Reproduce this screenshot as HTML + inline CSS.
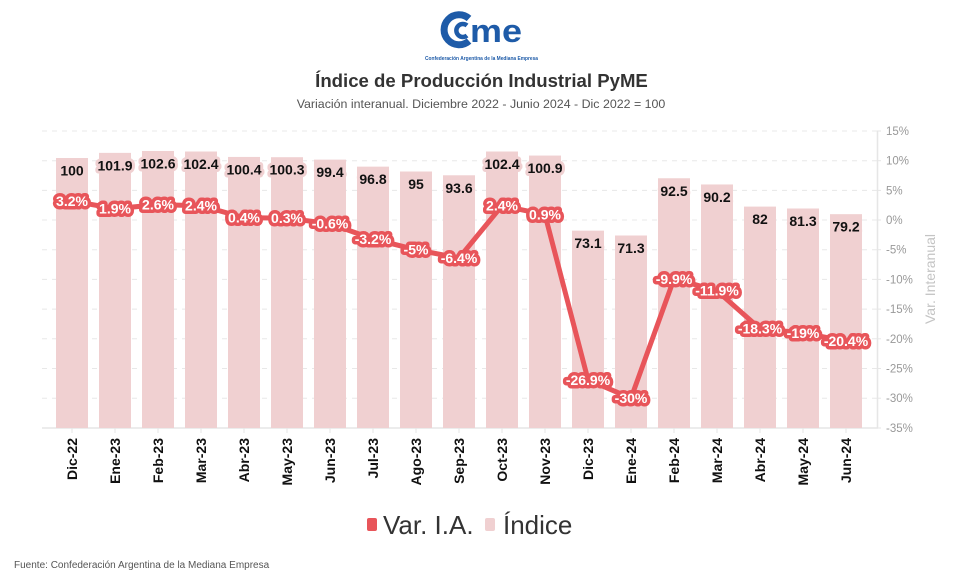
<!DOCTYPE html>
<html><head><meta charset="utf-8"><style>
html,body{margin:0;padding:0;background:#fff;}
svg{display:block;font-family:"Liberation Sans",sans-serif;}
</style></head><body>
<svg width="962" height="585" viewBox="0 0 962 585" xmlns="http://www.w3.org/2000/svg">
<!-- logo -->
<g fill="none" stroke="#1e5ba8">
<path d="M469 18.5 A15 15 0 1 0 469 41" stroke-width="7"/>
<path d="M467 25.5 A6.5 6.5 0 1 0 467 35.5" stroke-width="4.5"/>
</g>
<text x="470" y="42" font-size="32" font-weight="bold" fill="#1e5ba8" textLength="52" lengthAdjust="spacingAndGlyphs">me</text>
<text x="425" y="60" font-size="5" font-weight="bold" fill="#1e5ba8" textLength="113" lengthAdjust="spacingAndGlyphs">Confederación Argentina de la Mediana Empresa</text>
<!-- titles -->
<text x="481.5" y="87" font-size="18.6" font-weight="bold" fill="#333" text-anchor="middle">Índice de Producción Industrial PyME</text>
<text x="481" y="108" font-size="12.4" fill="#555" text-anchor="middle">Variación interanual. Diciembre 2022 - Junio 2024 - Dic 2022 = 100</text>
<!-- grid -->
<g stroke="#e8e8e8" stroke-width="1" stroke-dasharray="5,5">
<line x1="42" x2="877" y1="131" y2="131"/>
<line x1="42" x2="877" y1="160.7" y2="160.7"/>
<line x1="42" x2="877" y1="190.4" y2="190.4"/>
<line x1="42" x2="877" y1="220" y2="220"/>
<line x1="42" x2="877" y1="249.7" y2="249.7"/>
<line x1="42" x2="877" y1="279.4" y2="279.4"/>
<line x1="42" x2="877" y1="309.1" y2="309.1"/>
<line x1="42" x2="877" y1="338.8" y2="338.8"/>
<line x1="42" x2="877" y1="368.5" y2="368.5"/>
<line x1="42" x2="877" y1="398.2" y2="398.2"/>
</g>
<line x1="42" x2="878" y1="428" y2="428" stroke="#e6e6e6" stroke-width="1.5"/>
<line x1="877.5" x2="877.5" y1="131" y2="428" stroke="#e6e6e6" stroke-width="1.5"/>
<g stroke="#e6e6e6" stroke-width="1">
<line x1="877" x2="881" y1="131" y2="131"/><line x1="877" x2="881" y1="160.7" y2="160.7"/><line x1="877" x2="881" y1="190.4" y2="190.4"/><line x1="877" x2="881" y1="220" y2="220"/><line x1="877" x2="881" y1="249.7" y2="249.7"/><line x1="877" x2="881" y1="279.4" y2="279.4"/><line x1="877" x2="881" y1="309.1" y2="309.1"/><line x1="877" x2="881" y1="338.8" y2="338.8"/><line x1="877" x2="881" y1="368.5" y2="368.5"/><line x1="877" x2="881" y1="398.2" y2="398.2"/><line x1="877" x2="881" y1="428" y2="428"/>
</g>
<!-- right axis labels -->
<g font-size="11.5" fill="#999">
<text x="886" y="135">15%</text>
<text x="886" y="164.7">10%</text>
<text x="886" y="194.4">5%</text>
<text x="886" y="224">0%</text>
<text x="886" y="253.7">-5%</text>
<text x="886" y="283.4">-10%</text>
<text x="886" y="313.1">-15%</text>
<text x="886" y="342.8">-20%</text>
<text x="886" y="372.5">-25%</text>
<text x="886" y="402.2">-30%</text>
<text x="886" y="432">-35%</text>
</g>
<text transform="translate(935,279) rotate(-90)" font-size="14" fill="#c4c4c4" text-anchor="middle">Var. Interanual</text>
<!-- bars -->
<g fill="#f0d0d1">
<rect x="56" y="158" width="32" height="270"/>
<rect x="99" y="152.87" width="32" height="275.13"/>
<rect x="142" y="150.98" width="32" height="277.02"/>
<rect x="185" y="151.52" width="32" height="276.48"/>
<rect x="228" y="156.92" width="32" height="271.08"/>
<rect x="271" y="157.19" width="32" height="270.81"/>
<rect x="314" y="159.62" width="32" height="268.38"/>
<rect x="357" y="166.64" width="32" height="261.36"/>
<rect x="400" y="171.5" width="32" height="256.5"/>
<rect x="443" y="175.28" width="32" height="252.72"/>
<rect x="486" y="151.52" width="32" height="276.48"/>
<rect x="529" y="155.57" width="32" height="272.43"/>
<rect x="572" y="230.63" width="32" height="197.37"/>
<rect x="615" y="235.49" width="32" height="192.51"/>
<rect x="658" y="178.25" width="32" height="249.75"/>
<rect x="701" y="184.46" width="32" height="243.54"/>
<rect x="744" y="206.6" width="32" height="221.4"/>
<rect x="787" y="208.49" width="32" height="219.51"/>
<rect x="830" y="214.16" width="32" height="213.84"/>
</g>
<!-- x ticks -->
<g stroke="#e6e6e6" stroke-width="1">
<line x1="72" x2="72" y1="428" y2="433"/><line x1="115" x2="115" y1="428" y2="433"/><line x1="158" x2="158" y1="428" y2="433"/><line x1="201" x2="201" y1="428" y2="433"/><line x1="244" x2="244" y1="428" y2="433"/><line x1="287" x2="287" y1="428" y2="433"/><line x1="330" x2="330" y1="428" y2="433"/><line x1="373" x2="373" y1="428" y2="433"/><line x1="416" x2="416" y1="428" y2="433"/><line x1="459" x2="459" y1="428" y2="433"/><line x1="502" x2="502" y1="428" y2="433"/><line x1="545" x2="545" y1="428" y2="433"/><line x1="588" x2="588" y1="428" y2="433"/><line x1="631" x2="631" y1="428" y2="433"/><line x1="674" x2="674" y1="428" y2="433"/><line x1="717" x2="717" y1="428" y2="433"/><line x1="760" x2="760" y1="428" y2="433"/><line x1="803" x2="803" y1="428" y2="433"/><line x1="846" x2="846" y1="428" y2="433"/>
</g>
<!-- x labels -->
<g font-size="14" font-weight="bold" fill="#111" text-anchor="end">
<text transform="translate(77,438) rotate(-90)">Dic-22</text>
<text transform="translate(120,438) rotate(-90)">Ene-23</text>
<text transform="translate(163,438) rotate(-90)">Feb-23</text>
<text transform="translate(206,438) rotate(-90)">Mar-23</text>
<text transform="translate(249,438) rotate(-90)">Abr-23</text>
<text transform="translate(292,438) rotate(-90)">May-23</text>
<text transform="translate(335,438) rotate(-90)">Jun-23</text>
<text transform="translate(378,438) rotate(-90)">Jul-23</text>
<text transform="translate(421,438) rotate(-90)">Ago-23</text>
<text transform="translate(464,438) rotate(-90)">Sep-23</text>
<text transform="translate(507,438) rotate(-90)">Oct-23</text>
<text transform="translate(550,438) rotate(-90)">Nov-23</text>
<text transform="translate(593,438) rotate(-90)">Dic-23</text>
<text transform="translate(636,438) rotate(-90)">Ene-24</text>
<text transform="translate(679,438) rotate(-90)">Feb-24</text>
<text transform="translate(722,438) rotate(-90)">Mar-24</text>
<text transform="translate(765,438) rotate(-90)">Abr-24</text>
<text transform="translate(808,438) rotate(-90)">May-24</text>
<text transform="translate(851,438) rotate(-90)">Jun-24</text>
</g>
<!-- index labels -->
<g font-size="14" font-weight="bold" fill="#111" text-anchor="middle" stroke="#f0d0d1" stroke-width="6" stroke-linejoin="round" paint-order="stroke">
<text x="72" y="175.5">100</text>
<text x="115" y="170.4">101.9</text>
<text x="158" y="168.5">102.6</text>
<text x="201" y="169">102.4</text>
<text x="244" y="174.4">100.4</text>
<text x="287" y="174.7">100.3</text>
<text x="330" y="177.1">99.4</text>
<text x="373" y="184.1">96.8</text>
<text x="416" y="189">95</text>
<text x="459" y="192.8">93.6</text>
<text x="502" y="169">102.4</text>
<text x="545" y="173.1">100.9</text>
<text x="588" y="248.1">73.1</text>
<text x="631" y="253">71.3</text>
<text x="674" y="195.8">92.5</text>
<text x="717" y="202">90.2</text>
<text x="760" y="224.1">82</text>
<text x="803" y="226">81.3</text>
<text x="846" y="231.7">79.2</text>
</g>
<!-- line -->
<polyline fill="none" stroke="#e8555a" stroke-width="5" stroke-linejoin="round" stroke-linecap="round" points="72,201 115,208.7 158,204.6 201,205.7 244,217.6 287,218.2 330,223.6 373,239 416,249.7 459,258 502,205.7 545,214.7 588,379.8 631,398.2 674,278.8 717,290.7 760,328.7 803,332.9 846,341.2"/>
<!-- var labels -->
<g font-size="14" font-weight="bold" fill="#fff" text-anchor="middle" stroke="#e8555a" stroke-width="7" stroke-linejoin="round" paint-order="stroke">
<text x="72" y="206">3.2%</text>
<text x="115" y="213.7">1.9%</text>
<text x="158" y="209.6">2.6%</text>
<text x="201" y="210.7">2.4%</text>
<text x="244" y="222.6">0.4%</text>
<text x="287" y="223.2">0.3%</text>
<text x="330" y="228.6">-0.6%</text>
<text x="373" y="244">-3.2%</text>
<text x="416" y="254.7">-5%</text>
<text x="459" y="263">-6.4%</text>
<text x="502" y="210.7">2.4%</text>
<text x="545" y="219.7">0.9%</text>
<text x="588" y="384.8">-26.9%</text>
<text x="631" y="403.2">-30%</text>
<text x="674" y="283.8">-9.9%</text>
<text x="717" y="295.7">-11.9%</text>
<text x="760" y="333.7">-18.3%</text>
<text x="803" y="337.9">-19%</text>
<text x="846" y="346.2">-20.4%</text>
</g>
<!-- legend -->
<rect x="367" y="518" width="10" height="13" rx="2" fill="#e8555a"/>
<text x="383" y="534" font-size="26" fill="#333">Var. I.A.</text>
<rect x="485" y="518" width="10" height="13" rx="2" fill="#f0d0d1"/>
<text x="503" y="534" font-size="26" fill="#333">Índice</text>
<!-- footer -->
<text x="14" y="568" font-size="10" fill="#555">Fuente: Confederación Argentina de la Mediana Empresa</text>
</svg>
</body></html>
